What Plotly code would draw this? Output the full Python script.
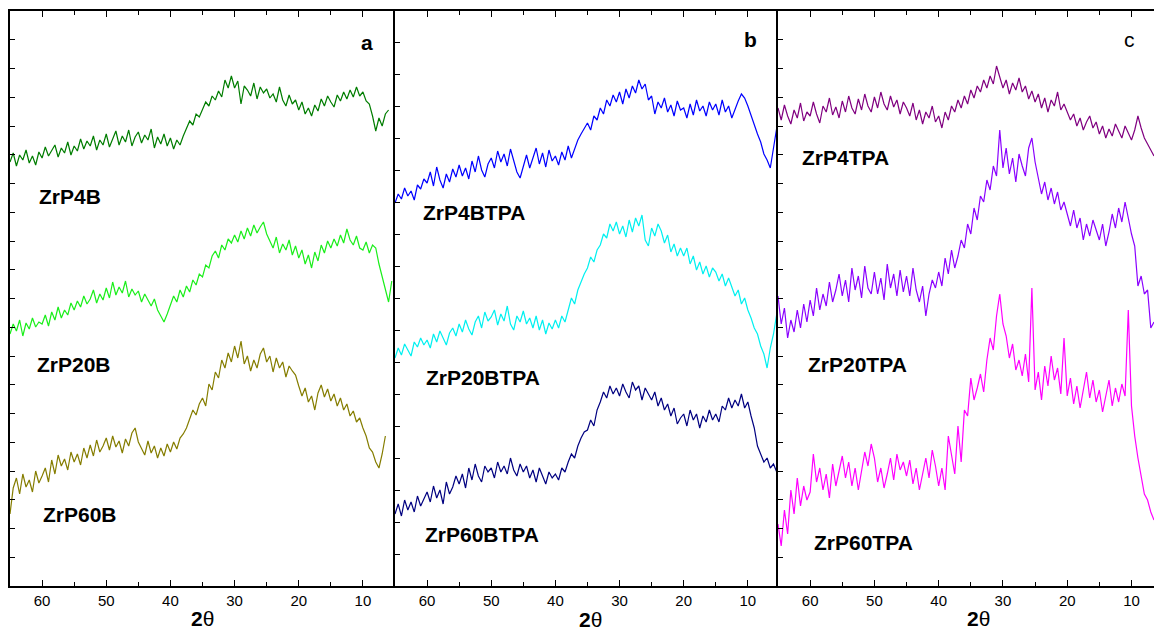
import numpy as np
import plotly.graph_objects as go

W, H = 1154, 631

# 2-theta sampling grid (degrees), 0.5 deg steps from 65 downwards
two_theta = [65 - 0.5 * i for i in range(121)]

# ---------------- Panel a ----------------
zrp4b = [424, 433, 420, 431, 426, 436, 423, 430, 421, 434,
         428, 439, 430, 436, 441, 429, 438, 433, 444, 431,
         440, 435, 447, 437, 445, 440, 450, 436, 446, 441,
         452, 439, 448, 455, 441, 450, 444, 456, 440, 449,
         454, 443, 451, 446, 457, 438, 449, 442, 452, 440,
         448, 437, 446, 441, 450, 458, 465, 461, 472, 469,
         476, 484, 480, 490, 486, 495, 489, 506, 498, 510,
         498, 505, 482, 500, 496, 490, 503, 487, 499, 493,
         497, 488, 492, 484, 499, 486, 480, 491, 482, 486,
         476, 484, 472, 478, 470, 481, 475, 487, 480, 490,
         484, 479, 491, 485, 494, 487, 496, 489, 499, 490,
         494, 485, 482, 470, 455, 468, 460, 472, 476]
zrp20b = [252, 262, 255, 266, 250, 263, 257, 268, 259, 264,
          262, 271, 260, 274, 266, 279, 268, 276, 271, 283,
          276, 285, 279, 290, 282, 287, 296, 283, 292, 286,
          298, 288, 304, 291, 299, 293, 305, 289, 297, 291,
          295, 284, 292, 286, 280, 287, 276, 270, 264, 272,
          280, 290, 284, 296, 289, 300, 294, 306, 301, 312,
          309, 321, 318, 330, 335, 328, 341, 336, 347, 343,
          351, 344, 355, 347, 358, 350, 361, 353, 359, 364,
          352, 345, 338, 349, 333, 342, 336, 346, 331, 340,
          328, 336, 322, 331, 318, 334, 325, 341, 333, 345,
          338, 347, 340, 351, 343, 357, 346, 341, 350, 338,
          336, 344, 333, 341, 338, 322, 310, 296, 284, 305]
zrp60b = [72, 98, 108, 92, 112, 99, 106, 94, 115, 103,
          110, 118, 104, 126, 112, 131, 120, 127, 116, 134,
          124, 132, 121, 138, 128, 141, 130, 146, 134, 140,
          148, 136, 150, 139, 145, 133, 147, 140, 153, 158,
          144, 137, 131, 145, 133, 140, 128, 138, 130, 142,
          134, 144, 137, 148, 152, 158, 168, 176, 171, 182,
          188, 180, 202, 196, 214, 208, 226, 218, 233, 224,
          240, 228, 245, 222, 230, 215, 226, 218, 232, 238,
          224, 230, 214, 228, 218, 224, 209, 220, 215, 211,
          200, 190, 198, 184, 190, 176, 193, 201, 189, 197,
          185, 192, 180, 188, 176, 182, 170, 175, 164, 168,
          158, 150, 138, 134, 124, 118, 132, 150]

# ---------------- Panel b ----------------
zrp4btpa = [383, 392, 387, 398, 390, 395, 386, 401, 397, 407,
            403, 414, 400, 419, 406, 398, 412, 404, 417, 409,
            421, 410, 418, 407, 425, 414, 430, 416, 409, 422,
            428, 418, 435, 424, 432, 420, 437, 426, 414, 408,
            420, 431, 418, 427, 438, 422, 433, 419, 436, 425,
            430, 421, 434, 426, 440, 428, 437, 446, 452, 458,
            463, 456, 470, 466, 478, 472, 486, 480, 491, 484,
            494, 482, 497, 488, 500, 493, 506, 497, 502, 486,
            490, 472, 484, 478, 488, 474, 481, 470, 485, 476,
            478, 468, 482, 471, 486, 475, 480, 470, 484, 476,
            482, 471, 486, 474, 480, 468, 477, 485, 492, 488,
            480, 470, 462, 452, 444, 432, 426, 418, 438, 458]
zrp20btpa = [228, 238, 231, 242, 236, 230, 244, 239, 248, 241,
             246, 238, 252, 244, 255, 247, 241, 253, 258, 250,
             262, 254, 266, 257, 251, 264, 270, 258, 274, 265,
             269, 276, 261, 272, 265, 280, 262, 256, 270, 264,
             275, 262, 268, 258, 270, 256, 266, 252, 263, 257,
             266, 258, 270, 264, 275, 288, 282, 296, 304, 312,
             318, 329, 324, 336, 341, 352, 348, 362, 355, 364,
             352, 360, 349, 366, 354, 368, 360, 371, 346, 340,
             358, 350, 362, 355, 343, 351, 334, 342, 330, 338,
             330, 338, 322, 330, 316, 324, 312, 320, 309, 318,
             314, 305, 312, 300, 308, 298, 290, 296, 282, 288,
             276, 268, 258, 252, 240, 232, 218, 238, 252, 272]
zrp60btpa = [72, 82, 70, 86, 76, 84, 74, 90, 80, 88,
             94, 84, 100, 88, 96, 82, 104, 92, 99, 110,
             102, 112, 98, 118, 106, 122, 110, 104, 120, 114,
             118, 108, 124, 114, 120, 112, 128, 116, 110, 122,
             114, 120, 108, 116, 104, 118, 110, 102, 114, 108,
             112, 106, 118, 114, 124, 132, 128, 140, 148, 154,
             156, 166, 160, 176, 184, 194, 188, 200, 192, 198,
             190, 202, 194, 188, 204, 196, 200, 186, 198, 192,
             186, 194, 180, 188, 176, 182, 170, 178, 162, 168,
             172, 160, 176, 166, 172, 158, 170, 164, 176, 166,
             172, 164, 180, 176, 188, 178, 186, 180, 192, 178,
             184, 170, 158, 140, 132, 124, 128, 118, 122, 114]

# ---------------- Panel c ----------------
zrp4tpa = [478, 466, 481, 470, 462, 476, 468, 483, 465, 474,
           470, 484, 472, 463, 480, 474, 488, 471, 479, 468,
           485, 474, 490, 478, 472, 487, 476, 492, 480, 474,
           489, 478, 494, 482, 476, 490, 479, 486, 472, 484,
           478, 470, 483, 466, 476, 462, 474, 468, 480, 464,
           470, 458, 474, 466, 480, 474, 486, 478, 490, 482,
           496, 488, 500, 494, 506, 498, 510, 502, 520, 508,
           498, 506, 492, 503, 496, 508, 494, 500, 487, 495,
           484, 492, 478, 488, 474, 486, 480, 494, 476, 482,
           474, 466, 472, 460, 468, 456, 464, 470, 458, 464,
           452, 460, 448, 457, 450, 462, 455, 448, 460, 452,
           446, 456, 470, 458, 448, 442, 436, 430]
zrp20tpa = [290, 262, 278, 248, 266, 254, 276, 258, 282, 264,
            286, 270, 298, 276, 292, 280, 304, 284, 296, 312,
            290, 306, 284, 318, 296, 310, 288, 320, 298, 292,
            314, 292, 308, 286, 322, 298, 312, 290, 316, 294,
            310, 290, 318, 296, 284, 300, 270, 292, 306, 298,
            314, 300, 328, 312, 336, 318, 330, 346, 338, 362,
            352, 378, 366, 390, 384, 406, 396, 420, 410, 456,
            418, 438, 412, 428, 404, 432, 420, 410, 438, 448,
            424, 408, 392, 404, 386, 398, 382, 394, 376, 384,
            372, 360, 376, 358, 368, 346, 362, 350, 366, 356,
            346, 362, 340, 354, 372, 358, 378, 364, 384, 368,
            352, 340, 300, 310, 292, 296, 258, 264]
zrp60tpa = [62, 40, 76, 52, 96, 72, 108, 80, 100, 86,
            94, 132, 104, 118, 96, 112, 88, 122, 100, 116,
            130, 108, 124, 100, 118, 96, 114, 134, 120, 142,
            128, 104, 118, 98, 112, 128, 106, 132, 116, 124,
            110, 126, 102, 118, 96, 114, 128, 108, 136, 120,
            100, 118, 96, 150, 132, 112, 160, 124, 176, 170,
            208, 186, 198, 212, 194, 226, 248, 236, 270, 292,
            262, 250, 228, 242, 216, 226, 210, 232, 204, 298,
            196, 214, 186, 220, 200, 230, 206, 218, 192, 248,
            190, 208, 182, 200, 178, 196, 214, 188, 206, 184,
            196, 174, 192, 206, 180, 198, 184, 202, 190, 276,
            180, 150, 128, 110, 92, 86, 74, 66]

panels = [
    ("x", "y", [("ZrP4B", zrp4b, "#007d00"), ("ZrP20B", zrp20b, "#1aee1a"),
                ("ZrP60B", zrp60b, "#857d00")]),
    ("x2", "y2", [("ZrP4BTPA", zrp4btpa, "#0000ff"), ("ZrP20BTPA", zrp20btpa, "#00f0f0"),
                  ("ZrP60BTPA", zrp60btpa, "#000080")]),
    ("x3", "y3", [("ZrP4TPA", zrp4tpa, "#800080"), ("ZrP20TPA", zrp20tpa, "#8a00ff"),
                  ("ZrP60TPA", zrp60tpa, "#ff00ff")]),
]

fig = go.Figure()
for xa, ya, series in panels:
    for name, vals, col in series:
        fig.add_trace(go.Scatter(x=two_theta[:len(vals)], y=vals, mode="lines",
                                 name=name, xaxis=xa, yaxis=ya,
                                 line=dict(color=col, width=1.2), showlegend=False))

def px(x):
    return x / W

def py(y):
    return 1 - y / H

ydom = [py(586), py(11)]
xdoms = [[px(10), px(395)], [px(395), px(778)], [px(778), 1.0]]
xranges = [[65, 5.0], [65, 5.3], [65, 6.5]]
ydticks = [575 / 20, 575 / 18, 575 / 20]

font_tick = dict(family="Liberation Sans, Arial, sans-serif", size=15, color="black")
layout = dict(width=W, height=H, margin=dict(l=0, r=0, t=0, b=0),
              paper_bgcolor="white", plot_bgcolor="white")
for i in range(3):
    sx = "" if i == 0 else str(i + 1)
    layout["xaxis" + sx] = dict(domain=xdoms[i], range=xranges[i], anchor="y" + sx,
                                tickvals=[60, 50, 40, 30, 20, 10], ticks="inside", ticklen=6,
                                tickwidth=1, tickcolor="black",
                                minor=dict(tickvals=[65, 55, 45, 35, 25, 15, 5], ticks="inside",
                                           ticklen=4, tickcolor="black", showgrid=False),
                                showline=True, linecolor="black", linewidth=1.5, mirror="ticks",
                                showgrid=False, zeroline=False, tickfont=font_tick)
    layout["yaxis" + sx] = dict(domain=ydom, range=[0, 575], anchor="x" + sx,
                                tick0=0, dtick=ydticks[i], ticks="inside", ticklen=5,
                                tickcolor="black", showticklabels=False,
                                showline=True, linecolor="black", linewidth=1.5,
                                showgrid=False, zeroline=False)

fig.update_layout(**layout)

lab_font = dict(family="Liberation Sans, Arial, sans-serif", size=21, color="black")
labels = [
    ("<b>ZrP4B</b>", 70, 196), ("<b>ZrP20B</b>", 74, 364), ("<b>ZrP60B</b>", 80, 514),
    ("<b>ZrP4BTPA</b>", 474, 212), ("<b>ZrP20BTPA</b>", 483, 377), ("<b>ZrP60BTPA</b>", 482, 534),
    ("<b>ZrP4TPA</b>", 845, 157), ("<b>ZrP20TPA</b>", 857, 364), ("<b>ZrP60TPA</b>", 863, 542),
    ("<b>a</b>", 367, 42), ("<b>b</b>", 750, 40), ("c", 1129, 40),
    ("<b>2</b>θ", 203, 618), ("<b>2</b>θ", 590, 619), ("<b>2</b>θ", 978, 618),
]
for txt, x, y in labels:
    fig.add_annotation(text=txt, x=px(x), y=py(y), xref="paper", yref="paper",
                       showarrow=False, xanchor="center", yanchor="middle", font=lab_font)

fig.write_html("out.html")
